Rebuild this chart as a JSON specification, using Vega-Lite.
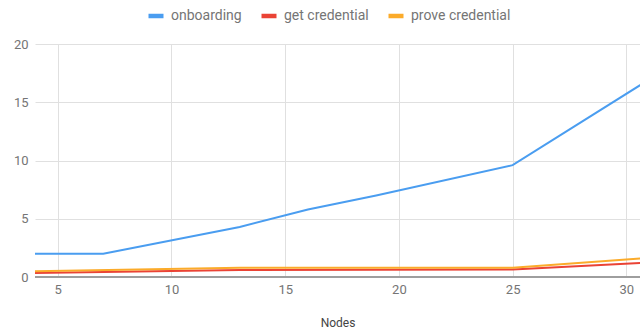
{
  "$schema": "https://vega.github.io/schema/vega-lite/v6.json",
  "autosize": {"type": "none"},
  "width": 605,
  "height": 233,
  "padding": {"left": 35, "top": 44, "right": 0, "bottom": 53},
  "background": "white",
  "config": {
    "view": {"stroke": null},
    "font": "Roboto",
    "axis": {"labelFont": "Roboto", "titleFont": "Roboto", "labelColor": "#757575", "labelFontSize": 13, "gridColor": "#e0e0e0", "gridWidth": 1}
  },
  "data": {
    "values": [
      {"nodes": 4, "series": "onboarding", "value": 2.0},
      {"nodes": 7, "series": "onboarding", "value": 2.0},
      {"nodes": 13, "series": "onboarding", "value": 4.3},
      {"nodes": 16, "series": "onboarding", "value": 5.8},
      {"nodes": 19, "series": "onboarding", "value": 7.0},
      {"nodes": 25, "series": "onboarding", "value": 9.6},
      {"nodes": 31, "series": "onboarding", "value": 16.95},
      {"nodes": 4, "series": "get credential", "value": 0.35},
      {"nodes": 13, "series": "get credential", "value": 0.6},
      {"nodes": 25, "series": "get credential", "value": 0.65},
      {"nodes": 31, "series": "get credential", "value": 1.25},
      {"nodes": 4, "series": "prove credential", "value": 0.5},
      {"nodes": 13, "series": "prove credential", "value": 0.8},
      {"nodes": 25, "series": "prove credential", "value": 0.8},
      {"nodes": 31, "series": "prove credential", "value": 1.65}
    ]
  },
  "layer": [
    {
      "mark": {"type": "rule", "color": "#9e9e9e", "strokeWidth": 2},
      "data": {"values": [{"y": 0}]},
      "encoding": {"y": {"field": "y", "type": "quantitative", "scale": {"domain": [0, 20]}}}
    },
    {
      "mark": {"type": "line", "strokeWidth": 2, "clip": true},
      "encoding": {
        "x": {
          "field": "nodes", "type": "quantitative",
          "scale": {"domain": [4, 30.6], "nice": false, "zero": false},
          "axis": {"values": [5, 10, 15, 20, 25, 30], "title": "Nodes", "titleColor": "#444444", "titleFontSize": 12, "titleFontWeight": "normal", "titlePadding": 21, "domain": false, "ticks": false, "labelPadding": 6, "grid": true}
        },
        "y": {
          "field": "value", "type": "quantitative",
          "scale": {"domain": [0, 20], "nice": false},
          "axis": {"values": [0, 5, 10, 15, 20], "title": null, "domain": false, "ticks": false, "labelPadding": 7, "grid": true}
        },
        "color": {
          "field": "series", "type": "nominal",
          "scale": {"domain": ["onboarding", "get credential", "prove credential"], "range": ["#4a9df0", "#ea4335", "#fbab2a"]},
          "sort": ["onboarding", "get credential", "prove credential"],
          "legend": {
            "title": null, "orient": "none", "direction": "horizontal",
            "legendX": 111, "legendY": -38,
            "symbolType": "stroke",
            "symbolSize": 225, "symbolStrokeWidth": 4.5,
            "labelFont": "Roboto", "labelFontSize": 14, "labelColor": "#757575",
            "labelOffset": 5, "columnPadding": 10
          }
        },
        "order": {"field": "nodes", "type": "quantitative"}
      }
    }
  ]
}
